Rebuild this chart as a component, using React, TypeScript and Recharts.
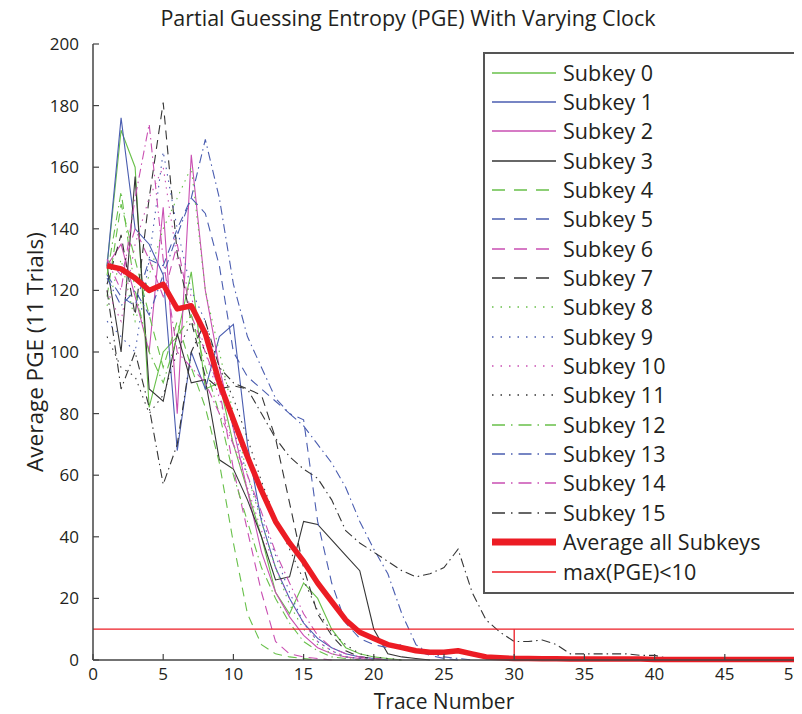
import { LineChart, Line, XAxis, YAxis, ReferenceLine, Legend } from "recharts";

const FONT = "'Open Sans', 'Noto Sans', sans-serif";
const TEXT = "#231f20";
const GREEN = "#68c04a";
const BLUE = "#4a5db0";
const MAGENTA = "#c94fb2";
const BLACK = "#353535";
const RED = "#ec1c24";

const traces = [
  1, 2, 3, 4, 5, 6, 7, 8, 9, 10, 11, 12, 13, 14, 15, 16, 17, 18, 19, 20, 21, 22, 23, 24, 25,
  26, 27, 28, 29, 30, 31, 32, 33, 34, 35, 36, 37, 38, 39, 40, 41, 42, 43, 44, 45, 46, 47, 48, 49, 50,
];
const xTicks = [0, 5, 10, 15, 20, 25, 30, 35, 40, 45, 50];
const yTicks = [0, 20, 40, 60, 80, 100, 120, 140, 160, 180, 200];

// PGE per subkey; each run ends once the subkey is fully recovered (PGE = 0)
const subkey0 = [128, 172, 160, 82, 100, 105, 126, 88, 90, 70, 55, 40, 22, 15, 25, 20, 10, 4, 2, 1, 0.5, 0];
const subkey1 = [128, 176, 140, 135, 125, 68, 100, 88, 105, 109, 70, 45, 30, 20, 12, 7, 4, 2, 1, 0.5, 0];
const subkey2 = [128, 135, 118, 100, 147, 80, 164, 120, 95, 75, 55, 35, 22, 14, 8, 4, 2, 1, 0.5, 0];
const subkey3 = [128, 100, 157, 88, 84, 106, 90, 91, 65, 62, 52, 40, 26, 27, 45, 44, 39, 34, 29, 10, 2, 1, 0.5, 0];
const subkey4 = [118, 148, 130, 112, 95, 110, 95, 82, 64, 38, 15, 5, 2, 1, 0.5, 0];
const subkey5 = [125, 118, 115, 130, 128, 140, 150, 145, 128, 100, 92, 88, 84, 80, 78, 45, 25, 12, 7, 5, 4, 5, 3, 1.5, 0.5, 0];
const subkey6 = [130, 125, 140, 130, 118, 135, 112, 100, 88, 62, 42, 22, 6, 2, 1, 0.5, 0];
const subkey7 = [122, 138, 112, 150, 181, 132, 110, 92, 88, 89, 88, 86, 72, 51, 30, 15, 8, 3, 1, 0.5, 0];
const subkey8 = [115, 130, 110, 125, 140, 150, 160, 120, 100, 80, 60, 45, 30, 18, 10, 5, 2, 1, 0.5, 0];
const subkey9 = [110, 105, 100, 130, 165, 140, 120, 110, 92, 75, 60, 46, 34, 22, 12, 6, 3, 1, 0.5, 0];
const subkey10 = [120, 110, 135, 150, 160, 130, 118, 100, 85, 70, 56, 42, 30, 20, 12, 6, 3, 1, 0.5, 0];
const subkey11 = [105, 95, 92, 80, 86, 100, 110, 100, 95, 85, 72, 58, 46, 36, 26, 16, 9, 5, 2, 1, 0.5, 0];
const subkey12 = [125, 152, 120, 100, 90, 105, 112, 95, 80, 60, 45, 30, 20, 12, 6, 3, 1, 0.5, 0];
const subkey13 = [124, 115, 120, 112, 125, 138, 150, 169, 150, 122, 105, 95, 85, 80, 76, 70, 64, 56, 45, 36, 28, 15, 5, 2, 1, 0.5, 0];
const subkey14 = [130, 120, 150, 174, 130, 100, 95, 90, 80, 70, 60, 48, 35, 25, 15, 8, 4, 2, 1, 0.5, 0];
const subkey15 = [
  120, 88, 100, 82, 57, 70, 100, 110, 95, 90, 88, 80, 72, 66, 62, 59, 52, 42, 38, 35, 32, 29, 27, 28, 30,
  36, 22, 13, 9, 6, 6, 6.5, 5, 2, 2, 2, 2, 2, 1.5, 1.5, 0.5, 0,
];
const average = [
  128, 127, 124, 120, 122, 114, 115, 106, 90, 78, 66, 55, 45, 38, 32, 25, 19, 13, 9, 7, 5, 4, 3, 2.5, 2.5,
  3, 2, 1, 0.7, 0.5, 0.5, 0.4, 0.4, 0.3, 0.3, 0.3, 0.3, 0.3, 0.3, 0.2, 0.2, 0.2, 0.2, 0.2, 0.2, 0.2, 0.2, 0.2, 0.2, 0.2,
];

const threshold = 10;
const thresholdTrace = 30;

const SOLID = undefined;
const DASHED = "9 6";
const DOTTED = "1.5 5";
const DASHDOT = "9 4 1.5 4";

const subkeys = [
  { key: "s0", name: "Subkey 0", color: GREEN, dash: SOLID, values: subkey0 },
  { key: "s1", name: "Subkey 1", color: BLUE, dash: SOLID, values: subkey1 },
  { key: "s2", name: "Subkey 2", color: MAGENTA, dash: SOLID, values: subkey2 },
  { key: "s3", name: "Subkey 3", color: BLACK, dash: SOLID, values: subkey3 },
  { key: "s4", name: "Subkey 4", color: GREEN, dash: DASHED, values: subkey4 },
  { key: "s5", name: "Subkey 5", color: BLUE, dash: DASHED, values: subkey5 },
  { key: "s6", name: "Subkey 6", color: MAGENTA, dash: DASHED, values: subkey6 },
  { key: "s7", name: "Subkey 7", color: BLACK, dash: DASHED, values: subkey7 },
  { key: "s8", name: "Subkey 8", color: GREEN, dash: DOTTED, values: subkey8 },
  { key: "s9", name: "Subkey 9", color: BLUE, dash: DOTTED, values: subkey9 },
  { key: "s10", name: "Subkey 10", color: MAGENTA, dash: DOTTED, values: subkey10 },
  { key: "s11", name: "Subkey 11", color: BLACK, dash: DOTTED, values: subkey11 },
  { key: "s12", name: "Subkey 12", color: GREEN, dash: DASHDOT, values: subkey12 },
  { key: "s13", name: "Subkey 13", color: BLUE, dash: DASHDOT, values: subkey13 },
  { key: "s14", name: "Subkey 14", color: MAGENTA, dash: DASHDOT, values: subkey14 },
  { key: "s15", name: "Subkey 15", color: BLACK, dash: DASHDOT, values: subkey15 },
];

const data = traces.map((t, i) => {
  const row: Record<string, number | null> = { trace: t, avg: average[i] ?? null };
  subkeys.forEach((s) => {
    row[s.key] = s.values[i] ?? null;
  });
  return row;
});

// legend samples use longer dashes than the plot lines
const legendDash: Record<string, string | undefined> = {
  [DASHED]: "13 9",
  [DOTTED]: "1.5 7",
  [DASHDOT]: "13 6 1.5 6",
};

const legendRows = [
  ...subkeys.map((s) => ({ name: s.name, color: s.color, width: 1.3, dash: s.dash ? legendDash[s.dash] : undefined })),
  { name: "Average all Subkeys", color: RED, width: 7, dash: undefined },
  { name: "max(PGE)<10", color: RED, width: 1.3, dash: undefined },
];

function LegendBox() {
  return (
    <div
      style={{
        width: 314,
        boxSizing: "border-box",
        border: "2px solid #555",
        background: "#fff",
        padding: "4px 0 6px",
        fontFamily: FONT,
      }}
    >
      {legendRows.map((r) => (
        <div key={r.name} style={{ display: "flex", alignItems: "center", height: 29.35 }}>
          <svg width={71} height={12} style={{ marginLeft: 7, flexShrink: 0 }}>
            <line x1={0} x2={64} y1={6} y2={6} stroke={r.color} strokeWidth={r.width} strokeDasharray={r.dash} />
          </svg>
          <span style={{ fontSize: 21.5, color: TEXT, lineHeight: "24px" }}>{r.name}</span>
        </div>
      ))}
    </div>
  );
}

export default function App() {
  return (
    <div style={{ position: "relative", width: 794, height: 706 }}>
      <div
        style={{
          position: "absolute",
          left: 0,
          top: -2,
          width: 800,
          textAlign: "center",
          fontFamily: FONT,
          fontSize: 21.5,
          lineHeight: "24px",
          color: TEXT,
          zIndex: 1,
        }}
      >
        Partial Guessing Entropy (PGE) With Varying Clock
      </div>
      <LineChart width={794} height={706} data={data} margin={{ top: 36, right: 7, bottom: 4, left: 25 }}>
        <XAxis
          dataKey="trace"
          type="number"
          domain={[0, 50]}
          ticks={xTicks}
          tickSize={-6}
          tickMargin={14}
          height={50}
          axisLine={{ stroke: "#444", strokeWidth: 1.5 }}
          tickLine={{ stroke: "#444", strokeWidth: 1.2 }}
          tick={{ fontSize: 17, fill: TEXT, fontFamily: FONT }}
          label={{ value: "Trace Number", position: "insideBottom", offset: 1.5, fontSize: 21, fill: TEXT, fontFamily: FONT }}
        />
        <YAxis
          domain={[0, 200]}
          ticks={yTicks}
          tickSize={-6}
          tickMargin={20}
          width={60}
          axisLine={{ stroke: "#444", strokeWidth: 1.5 }}
          tickLine={{ stroke: "#444", strokeWidth: 1.2 }}
          tick={{ fontSize: 17, fill: TEXT, fontFamily: FONT }}
          label={{
            value: "Average PGE (11 Trials)",
            angle: -90,
            position: "insideLeft",
            offset: 2,
            fontSize: 22.5,
            fill: TEXT,
            fontFamily: FONT,
            style: { textAnchor: "middle" },
          }}
        />
        {subkeys.map((s) => (
          <Line
            key={s.key}
            dataKey={s.key}
            name={s.name}
            type="linear"
            stroke={s.color}
            strokeWidth={1.1}
            strokeDasharray={s.dash}
            dot={false}
            activeDot={false}
            isAnimationActive={false}
          />
        ))}
        <ReferenceLine y={threshold} stroke={RED} strokeWidth={1.3} />
        <ReferenceLine
          segment={[
            { x: thresholdTrace, y: 0 },
            { x: thresholdTrace, y: threshold },
          ]}
          stroke={RED}
          strokeWidth={1.3}
        />
        <Line
          dataKey="avg"
          name="Average all Subkeys"
          type="linear"
          stroke={RED}
          strokeWidth={5.5}
          strokeLinejoin="round"
          dot={false}
          activeDot={false}
          isAnimationActive={false}
        />
        <Legend
          layout="vertical"
          align="center"
          verticalAlign="middle"
          content={<LegendBox />}
          wrapperStyle={{ top: 44, left: 475, width: 314 }}
        />
      </LineChart>
    </div>
  );
}
